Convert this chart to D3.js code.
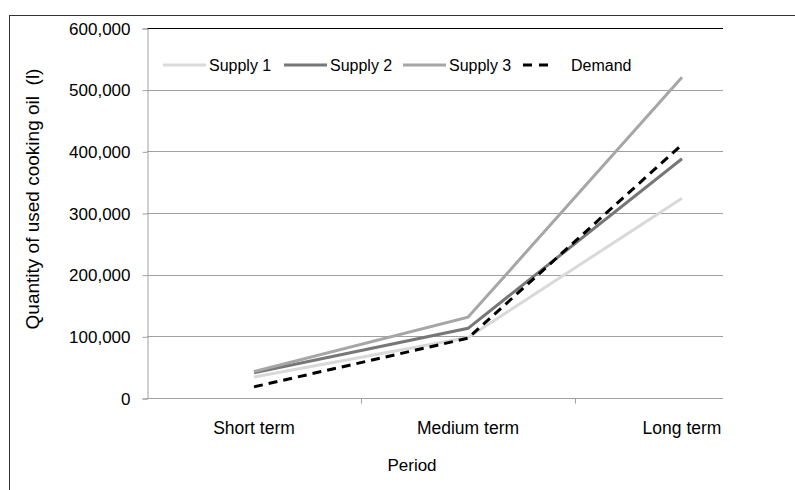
<!DOCTYPE html>
<html>
<head>
<meta charset="utf-8">
<script src="https://cdn.jsdelivr.net/npm/d3@7"></script>
<style>
  body { margin: 0; background: #fff; }
  text { font-family: "Liberation Sans", Arial, sans-serif; fill: #000; }
</style>
</head>
<body>
<div id="chart"></div>
<script>
const w = 795
const h = 490

// data
const periods = ['Short term', 'Medium term', 'Long term']
const supply1 = [34000, 98000, 324000]
const supply2 = [41000, 113000, 388000]
const supply3 = [43000, 131000, 520000]
const demand = [18000, 97000, 411000]
const yTicks = [0, 100000, 200000, 300000, 400000, 500000, 600000]

const seriesNames = ['Supply 1', 'Supply 2', 'Supply 3', 'Demand']
const seriesValues = [supply1, supply2, supply3, demand]
const seriesColors = ['#d9d9d9', '#777777', '#a6a6a6', '#000000']

const margin = { left: 147, right: 72, top: 28, bottom: 92 }
const plotRight = w - margin.right

const svg = d3.select('#chart')
    .append('svg')
    .attr('width', w)
    .attr('height', h)

// outer chart frame
svg.append('rect')
    .attr('x', 9.5)
    .attr('y', 15.5)
    .attr('width', w + 20)
    .attr('height', h + 20)
    .attr('fill', 'none')
    .attr('stroke', '#333')
    .attr('stroke-width', 1)

// the category bands run past the plot edge, the last one is cut off
const xScale = d3.scaleBand()
    .domain(periods)
    .range([margin.left, 789])

const yScale = d3.scaleLinear()
    .domain([0, 600000])
    .range([h - margin.bottom, margin.top])

// gridlines
svg.append('g')
    .selectAll('line')
    .data(yTicks.slice(1, -1))
    .enter()
    .append('line')
    .attr('x1', margin.left)
    .attr('x2', plotRight)
    .attr('y1', d => Math.round(yScale(d)) + 0.5)
    .attr('y2', d => Math.round(yScale(d)) + 0.5)
    .attr('stroke', '#a0a0a0')

// top border of plot
svg.append('line')
    .attr('x1', margin.left)
    .attr('x2', plotRight)
    .attr('y1', Math.round(yScale(600000)) + 0.5)
    .attr('y2', Math.round(yScale(600000)) + 0.5)
    .attr('stroke', '#000')

const yAxis = d3.axisLeft(yScale)
    .tickValues(yTicks)
    .tickSize(5)
    .tickPadding(12)
    .tickFormat(d3.format(','))

const yG = svg.append('g')
    .attr('transform', 'translate(' + (margin.left + 0.5) + ',0.5)')
    .call(yAxis)
yG.select('.domain').attr('stroke', '#a0a0a0')
yG.selectAll('.tick line').attr('stroke', '#a0a0a0')
yG.selectAll('.tick text')
    .style('font-size', '17px')
    .attr('dy', '0.33em')

// x axis: category boundaries as ticks
const xG = svg.append('g')
    .attr('transform', 'translate(0,' + (Math.round(yScale(0)) + 0.5) + ')')
xG.append('line')
    .attr('x1', margin.left)
    .attr('x2', plotRight)
    .attr('stroke', '#a0a0a0')
xG.selectAll('.bound')
    .data(periods.slice(1))
    .enter()
    .append('line')
    .attr('x1', d => Math.round(xScale(d)) + 0.5)
    .attr('x2', d => Math.round(xScale(d)) + 0.5)
    .attr('y1', 0)
    .attr('y2', 5)
    .attr('stroke', '#a0a0a0')
xG.selectAll('.lbl')
    .data(periods)
    .enter()
    .append('text')
    .attr('x', d => Math.min(xScale(d) + xScale.bandwidth() / 2, plotRight - 41))
    .attr('y', 35)
    .attr('text-anchor', 'middle')
    .style('font-size', '17.5px')
    .text(d => d)

const line = d3.line()
    .x((d, i) => xScale(periods[i]) + xScale.bandwidth() / 2)
    .y(d => yScale(d))

seriesValues.forEach((vals, k) => {
    svg.append('path')
        .datum(vals)
        .attr('d', line)
        .attr('fill', 'none')
        .attr('stroke', seriesColors[k])
        .attr('stroke-width', 3)
        .attr('stroke-dasharray', k === 3 ? '9,6' : null)
})

// legend
const legendX = [163, 284, 403, 523]
const legend = svg.append('g')
seriesNames.forEach((name, k) => {
    legend.append('line')
        .attr('x1', legendX[k])
        .attr('x2', legendX[k] + (k === 3 ? 26 : 43))
        .attr('y1', 65)
        .attr('y2', 65)
        .attr('stroke', seriesColors[k])
        .attr('stroke-width', 3)
        .attr('stroke-dasharray', k === 3 ? '9,7' : null)
    legend.append('text')
        .attr('x', legendX[k] + (k === 3 ? 48 : 46))
        .attr('y', 71)
        .style('font-size', '16px')
        .text(name)
})

// axis titles
svg.append('text')
    .attr('transform', 'translate(39,199) rotate(-90)')
    .attr('text-anchor', 'middle')
    .style('font-size', '19px')
    .style('white-space', 'pre')
    .text('Quantity of used cooking oil  (l)')

svg.append('text')
    .attr('x', 412)
    .attr('y', 471)
    .attr('text-anchor', 'middle')
    .style('font-size', '17px')
    .text('Period')
</script>
</body>
</html>
